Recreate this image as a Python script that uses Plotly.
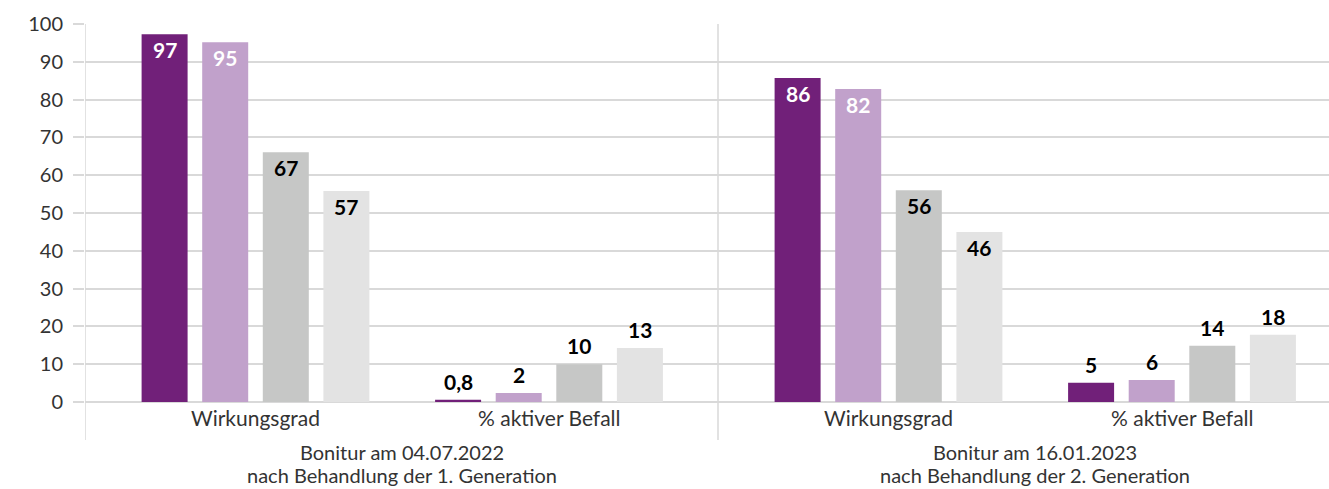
import plotly.graph_objects as go

# ---- data ----
groups = [["Bonitur am 04.07.2022", "nach Behandlung der 1. Generation"],
          ["Bonitur am 16.01.2023", "nach Behandlung der 2. Generation"]]
categories = ["Wirkungsgrad", "% aktiver Befall", "Wirkungsgrad", "% aktiver Befall"]

series_1 = [97.3, 0.6, 85.7, 5.1]
series_2 = [95.2, 2.4, 82.8, 5.8]
series_3 = [66.1, 10.0, 56.0, 14.9]
series_4 = [55.8, 14.3, 45.0, 17.8]

labels_1 = ["97", "0,8", "86", "5"]
labels_2 = ["95", "2", "82", "6"]
labels_3 = ["67", "10", "56", "14"]
labels_4 = ["57", "13", "46", "18"]

y_ticks = [0, 10, 20, 30, 40, 50, 60, 70, 80, 90, 100]

# ---- style ----
colors = ["#712079", "#C1A1CB", "#C6C7C6", "#E3E3E3"]
inside_colors = ["white", "white", "black", "black"]
GRID = "#D9D9D9"
TEXT = "#333333"
FONT = "Lato"

W, H = 1329, 489
ML, MR, MT, MB = 85, 0, 24, 87
PLOT_H = H - MT - MB
GROUP_W = 633.0
MARGIN = 170.5
SUB = 293.5
STEP = 60.6
BAR_W = 46.0
INSIDE_MIN = 25
CAT_LABEL_PX = 15.5          # below the zero line (center)
GROUP_LINE_PX = [50, 73]     # below the zero line (centers)

series = [series_1, series_2, series_3, series_4]
labels = [labels_1, labels_2, labels_3, labels_4]


def cat_center(c):
    g, s = divmod(c, 2)
    return GROUP_W * g + MARGIN + SUB * s


fig = go.Figure()
annotations = []
for i, (vals, labs) in enumerate(zip(series, labels)):
    xs = [cat_center(c) + (i - 1.5) * STEP for c in range(len(vals))]
    fig.add_trace(go.Bar(x=xs, y=vals, width=BAR_W, marker=dict(color=colors[i], line=dict(width=0)),
                         showlegend=False, hoverinfo="y"))
    for x, v, t in zip(xs, vals, labs):
        inside = v >= INSIDE_MIN
        annotations.append(dict(
            x=x, y=v, xref="x", yref="y", text="<b>%s</b>" % t, showarrow=False,
            yanchor="top" if inside else "bottom",
            yshift=-1 if inside else 4,
            font=dict(family=FONT, size=21, color=inside_colors[i] if inside else "black")))

# category labels
for c, name in enumerate(categories):
    annotations.append(dict(x=cat_center(c), y=-CAT_LABEL_PX / PLOT_H, xref="x", yref="paper", text=name,
                            showarrow=False, yanchor="middle",
                            font=dict(family=FONT, size=21, color=TEXT)))
# group labels
for g, lines in enumerate(groups):
    for k, line in enumerate(lines):
        annotations.append(dict(x=GROUP_W * g + GROUP_W / 2, y=-GROUP_LINE_PX[k] / PLOT_H,
                                xref="x", yref="paper", text=line,
                                showarrow=False, yanchor="middle", align="center",
                                font=dict(family=FONT, size=20, color=TEXT)))

shapes = []
for g in range(len(groups)):
    shapes.append(dict(type="line", xref="x", yref="paper", x0=GROUP_W * g, x1=GROUP_W * g,
                       y0=-38 / PLOT_H, y1=1, line=dict(color=GRID, width=1.5), layer="below"))

fig.update_layout(
    width=W, height=H,
    margin=dict(l=ML, r=MR, t=MT, b=MB, pad=0),
    paper_bgcolor="white", plot_bgcolor="white",
    barmode="overlay",
    annotations=annotations, shapes=shapes,
    xaxis=dict(range=[0, W - ML - MR], showgrid=False, zeroline=False, showticklabels=False,
               showline=False, fixedrange=True),
    yaxis=dict(range=[0, 100], tickvals=y_ticks, showgrid=True, gridcolor=GRID, gridwidth=1.5,
               zeroline=True, zerolinecolor=GRID, zerolinewidth=1.5,
               ticks="outside", ticklen=11, tickcolor=GRID, tickwidth=1.5,
               ticklabelstandoff=6,
               tickfont=dict(family=FONT, size=20, color=TEXT), showline=False, fixedrange=True),
    font=dict(family=FONT, color=TEXT),
)

fig.write_html("out.html", config={"displayModeBar": False},
               post_script="document.body.style.margin='0';document.body.style.overflow='hidden';")
